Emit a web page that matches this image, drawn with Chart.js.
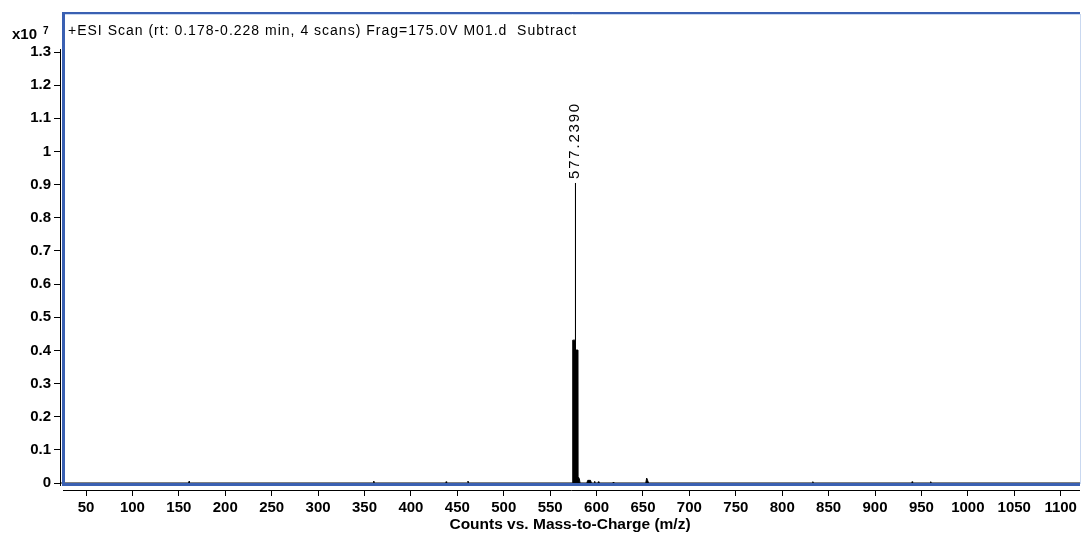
<!DOCTYPE html>
<html>
<head>
<meta charset="utf-8">
<script src="https://cdn.jsdelivr.net/npm/chart.js@4"></script>
<style>
  body { margin: 0; background: #fff; }
  canvas { display: block; }
</style>
</head>
<body>
<canvas id="specChart" width="1083" height="538"></canvas>
<script>
// Spectrum profile (intensity in units of 10^7 counts)
var mzValues = [22, 160.5, 161, 161.5, 359.5, 360, 360.5, 437.5, 438, 438.5, 461, 461.5, 462,
  574.25, 574.35, 577.14, 577.239, 577.34, 580.0, 580.1, 581.5, 582.2,
  589.5, 590.5, 593.5, 594.5, 597.5, 598, 598.5, 601.5, 602, 602.5, 617.5, 618, 618.5,
  653, 654, 655, 656, 832.5, 833, 833.5, 939.5, 940, 940.5, 959.5, 960, 960.5, 1121]
var intensities = [0, 0, 0.005, 0, 0, 0.006, 0, 0, 0.004, 0, 0, 0.006, 0,
  0, 0.431, 0.431, 0.905, 0.401, 0.401, 0.02, 0.012, 0,
  0, 0.008, 0.008, 0, 0, 0.005, 0, 0, 0.004, 0, 0, 0.003, 0,
  0, 0.015, 0.008, 0, 0, 0.004, 0, 0, 0.004, 0, 0, 0.004, 0, 0]
var peakLabel = { mz: 577.239, value: 0.905, text: '577.2390' }
var chartTitle = '+ESI Scan (rt: 0.178-0.228 min, 4 scans) Frag=175.0V M01.d  Subtract'
var xTitle = 'Counts vs. Mass-to-Charge (m/z)'
var yTicks = [0, 0.1, 0.2, 0.3, 0.4, 0.5, 0.6, 0.7, 0.8, 0.9, 1, 1.1, 1.2, 1.3]
var xTicks = [50, 100, 150, 200, 250, 300, 350, 400, 450, 500, 550, 600, 650, 700, 750, 800, 850, 900, 950, 1000, 1050, 1100]

var points = mzValues.map((m, i) => ({ x: m, y: intensities[i] }))

// Moldura azul, eixos pretos e textos
var frame = {
  id: 'frame',
  afterDatasetsDraw(chart) {
    var ctx = chart.ctx
    var ys = chart.scales.y
    ctx.save()
    // blue box
    ctx.strokeStyle = '#3a60b2'
    ctx.lineWidth = 3
    ctx.beginPath()
    ctx.moveTo(63.5, 13)
    ctx.lineTo(63.5, 484.5)
    ctx.lineTo(1080, 484.5)
    ctx.stroke()
    ctx.lineWidth = 2
    ctx.beginPath()
    ctx.moveTo(62, 13)
    ctx.lineTo(1080, 13)
    ctx.stroke()
    ctx.strokeStyle = '#c9d8f0'
    ctx.lineWidth = 1
    ctx.beginPath()
    ctx.moveTo(65, 14.5)
    ctx.lineTo(1080, 14.5)
    ctx.moveTo(1080.5, 14)
    ctx.lineTo(1080.5, 484)
    ctx.stroke()
    // black axis lines
    ctx.strokeStyle = '#000'
    ctx.lineWidth = 1
    ctx.beginPath()
    ctx.moveTo(60.5, ys.getPixelForValue(1.3) - 3)
    ctx.lineTo(60.5, 486)
    ctx.moveTo(63, 490.5)
    ctx.lineTo(1080, 490.5)
    ctx.stroke()
    // title inside plot
    ctx.fillStyle = '#000'
    ctx.font = '14px "Liberation Sans", Arial, sans-serif'
    ctx.letterSpacing = '1px'
    ctx.textBaseline = 'middle'
    ctx.textAlign = 'left'
    ctx.fillText(chartTitle, 68, 31)
    // peak label
    var px = chart.scales.x.getPixelForValue(peakLabel.mz)
    var py = ys.getPixelForValue(peakLabel.value)
    ctx.save()
    ctx.translate(px - 1, py - 4)
    ctx.rotate(-Math.PI / 2)
    ctx.font = '15px "Liberation Sans", Arial, sans-serif'
    ctx.letterSpacing = '1.8px'
    ctx.fillText(peakLabel.text, 0, 0)
    ctx.restore()
    // multiplier
    ctx.letterSpacing = '0px'
    ctx.textBaseline = 'alphabetic'
    ctx.font = 'bold 15px "Liberation Sans", Arial, sans-serif'
    ctx.fillText('x10', 12, 39)
    ctx.font = 'bold 10px "Liberation Sans", Arial, sans-serif'
    ctx.fillText('7', 43, 34)
    ctx.restore()
  }
}

var specChart = new Chart(document.getElementById('specChart'), {
  type: 'line',
  data: {
    datasets: [
      {
        data: points,
        borderColor: '#000',
        backgroundColor: '#000',
        borderWidth: 1,
        fill: 'origin',
        pointRadius: 0,
        tension: 0
      }
    ]
  },
  plugins: [frame],
  options: {
    responsive: false,
    animation: false,
    layout: { padding: { top: 12, right: 3, left: 0, bottom: 0 } },
    plugins: {
      legend: { display: false },
      tooltip: { enabled: false }
    },
    scales: {
      x: {
        type: 'linear',
        min: 21.98,
        max: 1120.8,
        afterFit: (s) => { s.height = 48 },
        afterBuildTicks: (s) => { s.ticks = xTicks.map((v) => ({ value: v })) },
        grid: { drawOnChartArea: false, drawTicks: true, tickLength: 6, color: '#000' },
        border: { display: false },
        ticks: {
          color: '#000',
          padding: 3,
          maxRotation: 0,
          autoSkip: false,
          callback: (v) => String(v),
          font: { family: '"Liberation Sans", Arial, sans-serif', size: 15, weight: 'bold' }
        },
        title: {
          display: true,
          text: xTitle,
          color: '#000',
          padding: { top: 0, bottom: 4 },
          font: { family: '"Liberation Sans", Arial, sans-serif', size: 15.5, weight: 'bold' }
        }
      },
      y: {
        min: -0.0211,
        max: 1.4208,
        afterFit: (s) => { s.width = 60 },
        afterBuildTicks: (s) => { s.ticks = yTicks.map((v) => ({ value: v })) },
        grid: { drawOnChartArea: false, drawTicks: true, tickLength: 6, color: '#000' },
        border: { display: false },
        ticks: {
          color: '#000',
          padding: 3,
          autoSkip: false,
          callback: (v) => String(Math.round(v * 10) / 10),
          font: { family: '"Liberation Sans", Arial, sans-serif', size: 15, weight: 'bold' }
        }
      }
    }
  }
})
</script>
</body>
</html>
